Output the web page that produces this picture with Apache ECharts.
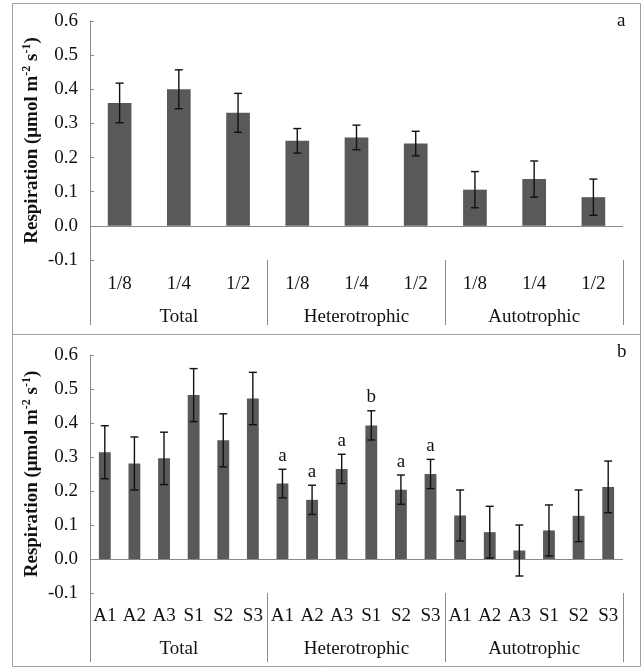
<!DOCTYPE html>
<html><head><meta charset="utf-8">
<script src="https://cdn.jsdelivr.net/npm/echarts@6/dist/echarts.min.js"></script>
<style>html,body{margin:0;padding:0;background:#fff}#c{width:642px;height:670px}</style>
</head><body><div id="c"></div>
<script>
// ---- data ----
const groups = ['Total', 'Heterotrophic', 'Autotrophic'];
const catsA = ['1/8', '1/4', '1/2', '1/8', '1/4', '1/2', '1/8', '1/4', '1/2'];
const valsA = [0.360, 0.400, 0.331, 0.249, 0.259, 0.241, 0.106, 0.137, 0.084];
const errsA = [0.058, 0.057, 0.057, 0.036, 0.036, 0.036, 0.053, 0.053, 0.053];
const catsB = ['A1', 'A2', 'A3', 'S1', 'S2', 'S3', 'A1', 'A2', 'A3', 'S1', 'S2', 'S3', 'A1', 'A2', 'A3', 'S1', 'S2', 'S3'];
const valsB = [0.314, 0.281, 0.296, 0.482, 0.349, 0.472, 0.222, 0.174, 0.265, 0.393, 0.204, 0.250, 0.128, 0.079, 0.025, 0.084, 0.127, 0.212];
const errsB = [0.078, 0.078, 0.077, 0.078, 0.078, 0.077, 0.042, 0.043, 0.043, 0.043, 0.043, 0.043, 0.075, 0.076, 0.075, 0.075, 0.076, 0.076];
const lettersB = ['', '', '', '', '', '', 'a', 'a', 'a', 'b', 'a', 'a', '', '', '', '', '', ''];
const yMin = -0.1, yMax = 0.6, yStep = 0.1;
const panelLabels = ['a', 'b'];

// ---- style ----
const FONT = '"Liberation Serif","Times New Roman",serif';
const AX = '#8a8a8a';
const BAR = '#595959';
const FS = 19;

function errRender(letters) {
  return function (params, api) {
    const x = api.value(0);
    const lo = api.coord([x, api.value(1)]);
    const hi = api.coord([x, api.value(2)]);
    const cap = 4;
    const st = { stroke: '#111', lineWidth: 1.4 };
    const ch = [
      { type: 'line', shape: { x1: lo[0], y1: lo[1], x2: hi[0], y2: hi[1] }, style: st },
      { type: 'line', shape: { x1: lo[0] - cap, y1: lo[1], x2: lo[0] + cap, y2: lo[1] }, style: st },
      { type: 'line', shape: { x1: hi[0] - cap, y1: hi[1], x2: hi[0] + cap, y2: hi[1] }, style: st }
    ];
    const L = letters ? letters[params.dataIndex] : '';
    if (L) {
      ch.push({ type: 'text', style: { text: L, x: hi[0], y: hi[1] - 4, align: 'center', verticalAlign: 'bottom', font: FS + 'px ' + FONT, fill: '#111' } });
    }
    return { type: 'group', children: ch };
  };
}
function errData(vals, errs) { return vals.map((v, i) => [i, v - errs[i], v + errs[i]]); }

const yName = '{b|Respiration (μmol m}{s|-2}{b| s}{s|-1}{b|)}';
function yAxis(gi) {
  return {
    gridIndex: gi, type: 'value', min: yMin, max: yMax, interval: yStep,
    axisLine: { show: true, lineStyle: { color: AX, width: 1 } },
    axisTick: { show: true, inside: true, length: 4, lineStyle: { color: AX } },
    splitLine: { show: false },
    axisLabel: { margin: 12, fontFamily: FONT, fontSize: FS, color: '#111', formatter: v => v.toFixed(1) },
    name: yName, nameLocation: 'middle', nameRotate: 90, nameGap: 47, nameMoveOverlap: false,
    nameTextStyle: {
      rich: {
        b: { fontFamily: FONT, fontWeight: 'bold', fontSize: FS, color: '#111', lineHeight: 22 },
        s: { fontFamily: FONT, fontWeight: 'bold', fontSize: 12, color: '#111', lineHeight: 12, verticalAlign: 'top' }
      }
    }
  };
}
function catAxis(gi, cats, margin) {
  return {
    gridIndex: gi, type: 'category', data: cats, position: 'bottom',
    axisLine: { show: false, onZero: false }, axisTick: { show: false },
    axisLabel: { interval: 0, margin: margin, fontFamily: FONT, fontSize: FS, color: '#111' }
  };
}
function groupAxis(gi, len, margin) {
  return {
    gridIndex: gi, type: 'category', data: groups, position: 'bottom',
    axisLine: { show: false, onZero: false },
    axisTick: { show: true, length: len, lineStyle: { color: AX } },
    axisLabel: { interval: 0, margin: margin, fontFamily: FONT, fontSize: FS, color: '#111' }
  };
}
function barSeries(xi, yi, vals) {
  return {
    type: 'bar', xAxisIndex: xi, yAxisIndex: yi, data: vals, barWidth: '40%',
    itemStyle: { color: BAR }, silent: true,
    markLine: { silent: true, symbol: 'none', label: { show: false }, lineStyle: { color: AX, type: 'solid', width: 1 }, data: [{ yAxis: 0 }] }
  };
}

const chart = echarts.init(document.getElementById('c'), null, { renderer: 'canvas' });
chart.setOption({
  animation: false,
  backgroundColor: '#fff',
  grid: [
    { left: 90, right: 19, top: 21, height: 239 },
    { left: 90, right: 19, top: 355, height: 238 }
  ],
  xAxis: [
    catAxis(0, catsA, 15), groupAxis(0, 65, 48),
    catAxis(1, catsB, 14), groupAxis(1, 69, 47)
  ],
  yAxis: [yAxis(0), yAxis(1)],
  series: [
    barSeries(0, 0, valsA),
    { type: 'custom', xAxisIndex: 0, yAxisIndex: 0, renderItem: errRender(null), data: errData(valsA, errsA), z: 5, silent: true },
    barSeries(2, 1, valsB),
    { type: 'custom', xAxisIndex: 2, yAxisIndex: 1, renderItem: errRender(lettersB), data: errData(valsB, errsB), z: 5, silent: true }
  ],
  graphic: [
    { type: 'rect', shape: { x: 12.5, y: 3.5, width: 628, height: 331 }, style: { fill: 'none', stroke: '#a0a0a0', lineWidth: 1 }, silent: true },
    { type: 'rect', shape: { x: 12.5, y: 334.5, width: 628, height: 332 }, style: { fill: 'none', stroke: '#a0a0a0', lineWidth: 1 }, silent: true },
    { type: 'text', left: 617, top: 12, style: { text: panelLabels[0], font: FS + 'px ' + FONT, fill: '#111' } },
    { type: 'text', left: 617, top: 343, style: { text: panelLabels[1], font: FS + 'px ' + FONT, fill: '#111' } }
  ]
});
</script>
</body></html>
